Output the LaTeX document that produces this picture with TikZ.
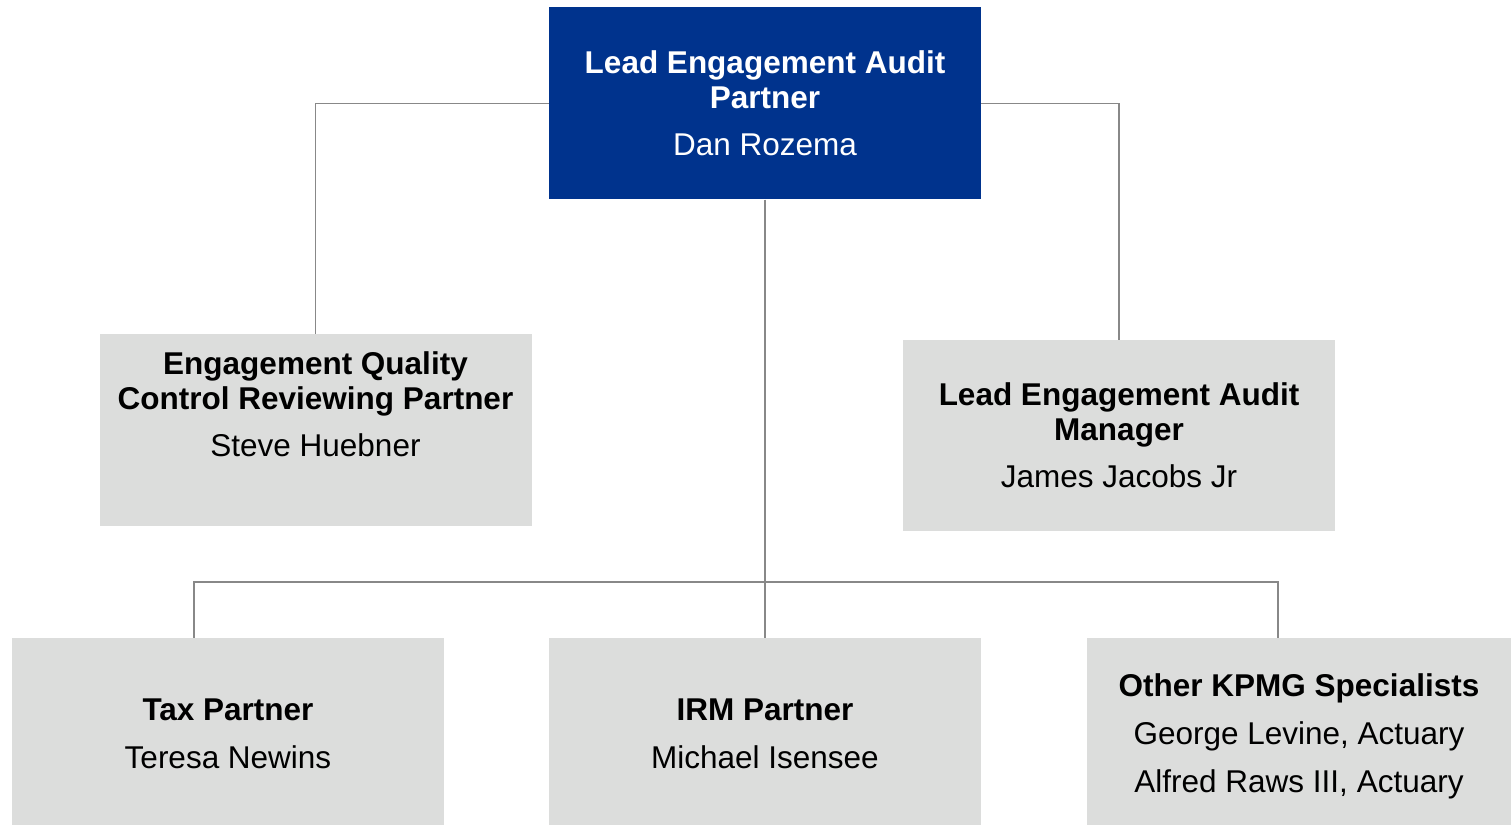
\documentclass[tikz,border=0pt]{standalone}
\usepackage{fontspec}
\setmainfont{Liberation Sans}
\usetikzlibrary{positioning}
\definecolor{kpmgblue}{HTML}{00338D}
\definecolor{boxgray}{HTML}{DCDDDC}
\definecolor{linegray}{HTML}{888888}
\tikzset{
  orgbox/.style={rectangle, inner sep=0pt, minimum width=432pt, minimum height=192pt, align=center,
    font=\fontsize{31.5}{35}\selectfont},
  topbox/.style={orgbox, fill=kpmgblue, text=white},
  graybox/.style={orgbox, fill=boxgray, text=black},
  lowbox/.style={graybox, minimum height=187pt, text height=73pt, text depth=0pt},
  link/.style={draw=linegray, line width=1.2pt}
}
\newcommand{\role}[1]{\textbf{#1}}

\begin{document}
\begin{tikzpicture}[x=1pt, y=1pt, on grid]
   \useasboundingbox (0,0) rectangle (1511,825);
   \node[topbox] (lead) at (765,721.5) {\role{Lead Engagement Audit}\\\role{Partner}\\[12pt]Dan Rozema};
   \node[graybox, text height=54pt, text depth=0pt, below left=326.5pt and 449.5pt of lead] (eqcr)
        {\role{Engagement Quality}\\\role{Control Reviewing Partner}\\[12.5pt]Steve Huebner};
   \node[graybox, minimum height=191pt, below right=332pt and 354pt of lead] (mgr)
        {\role{Lead Engagement Audit}\\\role{Manager}\\[12pt]James Jacobs Jr};
   \node[lowbox, below=628pt of lead] (irm) {\role{IRM Partner}\\[13pt]Michael Isensee};
   \node[lowbox, left=537pt of irm] (tax) {\role{Tax Partner}\\[13pt]Teresa Newins};
   \node[lowbox, text height=121pt, minimum width=424pt, right=534pt of irm] (other)
        {\role{Other KPMG Specialists}\\[13pt]George Levine, Actuary\\[13pt]Alfred Raws III, Actuary};

   \coordinate (taxdrop) at (194,243);
   \coordinate (otherdrop) at (1278,243);

   \draw[link] (lead.west) -| (eqcr.north);
   \draw[link] (lead.east) -| (mgr.north);
   \draw[link] (lead.south) -- (irm.north);
   \draw[link] (taxdrop |- tax.north) -- (taxdrop) -- (otherdrop) -- (otherdrop |- other.north);
\end{tikzpicture}
\end{document}
